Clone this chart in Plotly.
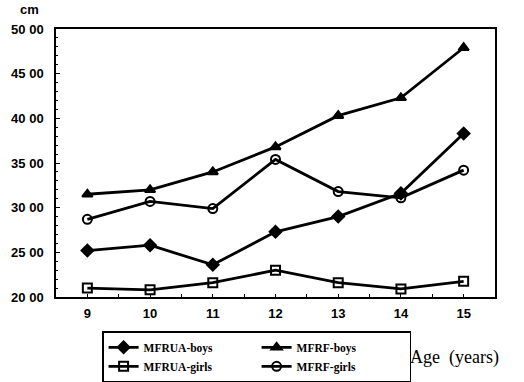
import plotly.graph_objects as go

ages = [9, 10, 11, 12, 13, 14, 15]
mfrua_boys = [25.2, 25.8, 23.6, 27.3, 29.0, 31.6, 38.3]
mfrf_boys = [31.5, 32.0, 34.0, 36.8, 40.3, 42.3, 47.9]
mfrua_girls = [21.0, 20.8, 21.6, 23.0, 21.6, 20.9, 21.75]
mfrf_girls = [28.7, 30.7, 29.9, 35.4, 31.8, 31.1, 34.2]
y_ticks = [20, 25, 30, 35, 40, 45, 50]
y_tick_labels = ["20 00", "25 00", "30 00", "35 00", "40 00", "45 00", "50 00"]

series = [
    ("MFRUA-boys", mfrua_boys, "diamond"),
    ("MFRF-boys", mfrf_boys, "triangle-up"),
    ("MFRUA-girls", mfrua_girls, "square-open"),
    ("MFRF-girls", mfrf_girls, "circle-open"),
]

fig = go.Figure()
for name, vals, sym in series:
    fig.add_trace(go.Scatter(
        x=ages, y=vals, name=name, mode="lines+markers",
        line=dict(color="black", width=2.8),
        marker=dict(symbol=sym, size=9, color="black",
                    line=dict(color="black", width=2)),
    ))

axis_font = dict(family="Liberation Sans Narrow, Liberation Sans, Arial", size=13, color="black", weight="bold")

fig.update_layout(
    width=524, height=382,
    margin=dict(l=56, r=29, t=29, b=85, autoexpand=False),
    paper_bgcolor="white", plot_bgcolor="white",
    showlegend=True,
    legend=dict(
        orientation="h", x=0.105, xanchor="left", y=-0.128, yanchor="top",
        entrywidth=108, bordercolor="black", borderwidth=1.5,
        font=dict(family="Liberation Serif, Times New Roman", size=11.5, color="black", weight="bold"),
        bgcolor="white", itemwidth=30, tracegroupgap=0,
    ),
    xaxis=dict(
        range=[8.5, 15.5], tickvals=ages, ticks="inside", ticklen=3,
        minor=dict(dtick=0.5, tick0=0, ticks="inside", ticklen=3, tickcolor="black"),
        showline=True, linecolor="black", linewidth=1.5, mirror=True,
        showgrid=False, zeroline=False, tickfont=axis_font, tickcolor="black",
        ticklabelstandoff=4,
    ),
    yaxis=dict(
        range=[20, 50], tickvals=y_ticks, ticktext=y_tick_labels,
        ticks="inside", ticklen=4, tickcolor="black",
        minor=dict(dtick=1, ticks="inside", ticklen=2, tickcolor="black"),
        showline=True, linecolor="black", linewidth=1.5, mirror=True,
        showgrid=False, zeroline=False, tickfont=axis_font,
        ticklabelstandoff=8,
    ),
    annotations=[
        dict(text="cm", x=0.0, xref="paper", xanchor="right", xshift=-15,
             y=1.0, yref="paper", yanchor="bottom", yshift=10, showarrow=False,
             font=dict(family="Liberation Sans, Arial", size=13, color="black", weight="bold")),
        dict(text="Age  (years)", x=0.802, xref="paper", xanchor="left",
             y=-0.224, yref="paper", yanchor="middle", showarrow=False,
             font=dict(family="Liberation Serif, Times New Roman", size=18, color="black")),
    ],
)

fig.write_html("out.html", config={"displayModeBar": False},
               post_script="document.body.style.margin='0';")
